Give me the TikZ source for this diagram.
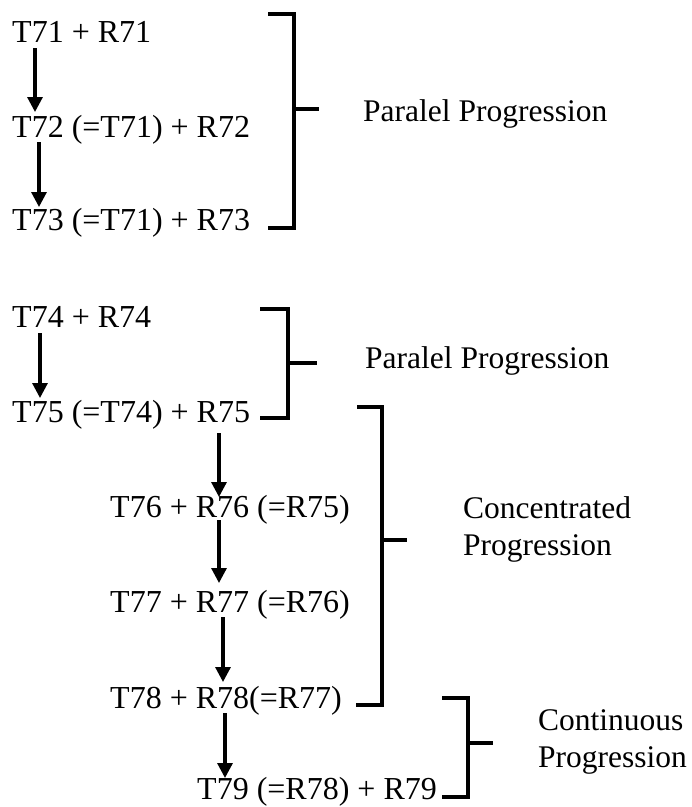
\documentclass[tikz,border=0pt]{standalone}
\usepackage{fontspec}
\setmainfont{Liberation Serif}
\usetikzlibrary{arrows.meta}
\begin{document}
\begin{tikzpicture}[x=1pt,y=-1pt,
  txt/.style={anchor=base west,inner sep=0pt,font=\fontsize{32}{37}\selectfont},
  lbl/.style={anchor=base west,inner sep=0pt,align=left,font=\fontsize{31.5}{37}\selectfont},
  arr/.style={line width=3.2pt,-{Triangle[length=15pt,width=15pt]}},
  brk/.style={line width=3.3pt}]
\useasboundingbox (0,0) rectangle (692,807);

% first group
\node[txt] (t71) at (12,42)  {T71 + R71};
\node[txt] (t72) at (12,137) {T72 (=T71) + R72};
\node[txt] (t73) at (12,230) {T73 (=T71) + R73};
\draw[arr] ([shift={(23pt,-6pt)}]t71.base west) -- ([shift={(23pt,25pt)}]t72.base west);
\draw[arr] ([shift={(27pt,-5pt)}]t72.base west) -- ([shift={(27pt,23pt)}]t73.base west);
\draw[brk] (268,14) -| (294,228) -- (268,228);
\draw[brk] (294,109) -- (319,109);
\node[lbl] (p1) at (363,121) {Paralel Progression};

% second group
\node[txt] (t74) at (12,327) {T74 + R74};
\node[txt] (t75) at (12,422) {T75 (=T74) + R75};
\node[txt] (t76) at (110,517) {T76 + R76 (=R75)};
\node[txt] (t77) at (110,612) {T77 + R77 (=R76)};
\node[txt] (t78) at (110,708) {T78 + R78(=R77)};
\node[txt] (t79) at (197,799) {T79 (=R78) + R79};
\draw[arr] ([shift={(28pt,-6pt)}]t74.base west) -- ([shift={(28pt,24pt)}]t75.base west);
\draw[arr] ([shift={(207pt,-11pt)}]t75.base west) -- ([shift={(109pt,20pt)}]t76.base west);
\draw[arr] ([shift={(109pt,-3pt)}]t76.base west) -- ([shift={(109pt,29pt)}]t77.base west);
\draw[arr] ([shift={(113pt,-5pt)}]t77.base west) -- ([shift={(113pt,26pt)}]t78.base west);
\draw[arr] ([shift={(115pt,-5pt)}]t78.base west) -- ([shift={(28pt,21pt)}]t79.base west);

% brackets
\draw[brk] (260,309) -| (288,418) -- (260,418);
\draw[brk] (288,363) -- (317,363);
\node[lbl] (p2) at (365,368) {Paralel Progression};

\draw[brk] (357,407) -| (382,705) -- (356,705);
\draw[brk] (382,540) -- (407,540);
\node[lbl] (p3) at (463,555) {Concentrated\\Progression};

\draw[brk] (442,698) -| (468,797) -- (442,797);
\draw[brk] (468,743) -- (493,743);
\node[lbl] (p4) at (538,767) {Continuous\\Progression};
\end{tikzpicture}
\end{document}
